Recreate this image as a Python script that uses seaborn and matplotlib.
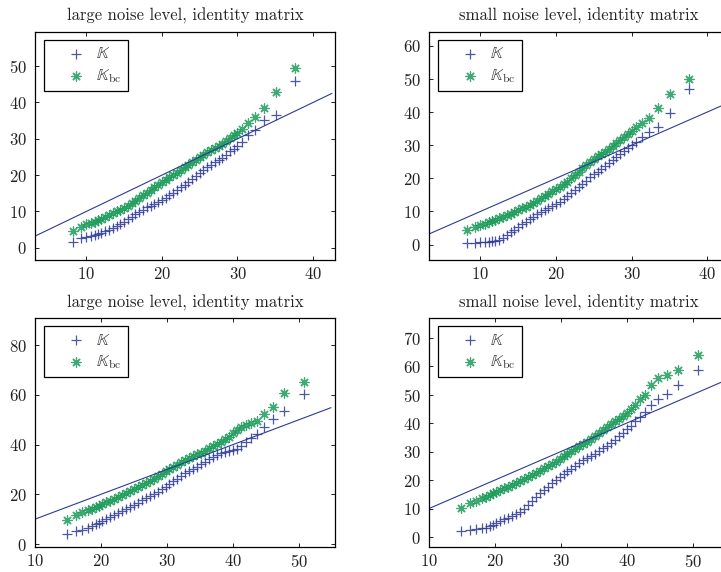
import matplotlib
matplotlib.use("Agg")
import matplotlib.pyplot as plt
import seaborn as sns

X_TOP = [8.2, 9.3, 10.0, 10.6, 11.1, 11.6, 12.0, 12.5, 13.0, 13.5, 14.0, 14.5,
         15.0, 15.5, 16.0, 16.5, 17.0, 17.5, 18.0, 18.5, 19.0, 19.5, 20.0, 20.5,
         21.0, 21.5, 22.0, 22.5, 23.0, 23.5, 24.0, 24.5, 25.0, 25.5, 26.0, 26.5,
         27.0, 27.5, 28.0, 28.5, 29.0, 29.5, 30.0, 30.6, 31.4, 32.3, 33.5, 35.1, 37.6]

K_TL = [1.6, 2.8, 3.0, 3.3, 3.5, 3.8, 4.1, 4.5, 5.0, 5.5, 6.0, 6.5,
        7.1, 7.8, 8.6, 9.3, 9.9, 10.5, 11.1, 11.6, 12.0, 12.5, 13.1, 13.7,
        14.4, 15.2, 15.9, 16.6, 17.4, 18.1, 18.9, 19.7, 20.5, 21.3, 22.1, 22.8,
        23.5, 24.2, 24.8, 25.6, 26.5, 27.2, 27.9, 29.0, 31.0, 32.4, 35.2, 36.5, 46.0]
KBC_TL = [4.5, 5.8, 6.5, 6.9, 7.2, 7.6, 7.9, 8.4, 8.9, 9.5, 10.0, 10.5,
          11.0, 11.6, 12.3, 12.9, 13.6, 14.4, 15.2, 15.9, 16.7, 17.4, 18.0, 18.7,
          19.4, 20.1, 20.7, 21.4, 22.1, 22.8, 23.5, 24.2, 24.9, 25.6, 26.3, 26.9,
          27.5, 28.1, 28.7, 29.4, 30.3, 31.0, 31.7, 32.7, 34.4, 36.0, 38.6, 43.0, 49.4]

K_TR = [0.4, 0.5, 0.7, 0.8, 0.9, 1.0, 1.2, 1.5, 2.1, 2.9, 3.7, 4.5,
        5.3, 6.1, 6.9, 7.7, 8.4, 9.1, 9.8, 10.4, 11.0, 11.7, 12.3, 12.9,
        13.7, 14.6, 15.5, 16.4, 17.4, 18.4, 19.3, 20.3, 21.2, 22.0, 22.8, 23.6,
        24.5, 25.5, 26.4, 27.4, 28.4, 29.2, 30.0, 30.9, 32.4, 34.0, 35.4, 39.6, 47.1]
KBC_TR = [4.3, 5.3, 5.8, 6.3, 6.8, 7.2, 7.5, 7.9, 8.4, 8.8, 9.3, 9.8,
          10.3, 10.9, 11.5, 12.1, 12.7, 13.3, 14.0, 14.7, 15.4, 16.1, 16.8, 17.5,
          18.2, 19.0, 20.0, 21.0, 22.0, 23.0, 24.0, 25.0, 25.8, 26.6, 27.3, 28.1,
          28.9, 29.8, 30.7, 31.7, 32.6, 33.5, 34.4, 35.4, 36.7, 38.1, 41.2, 45.5, 50.0]

X_BOTTOM = [14.9, 16.2, 17.2, 18.0, 18.6, 19.2, 19.7, 20.2, 20.8, 21.4, 22.0, 22.6,
            23.2, 23.8, 24.4, 25.0, 25.6, 26.2, 26.8, 27.4, 28.0, 28.6, 29.2, 29.8,
            30.4, 31.0, 31.6, 32.2, 32.8, 33.4, 34.0, 34.6, 35.2, 35.8, 36.4, 37.0,
            37.6, 38.2, 38.8, 39.4, 40.0, 40.6, 41.3, 42.0, 42.7, 43.6, 44.7, 46.1,
            47.8, 50.8]

K_BL = [4.2, 5.1, 5.8, 6.6, 7.2, 7.9, 8.5, 9.1, 10.0, 11.0, 11.8, 12.6,
        13.3, 14.1, 15.0, 15.9, 16.7, 17.6, 18.4, 19.2, 20.1, 21.1, 22.1, 23.0,
        24.1, 25.2, 26.3, 27.3, 28.4, 29.5, 30.4, 31.2, 32.1, 33.1, 34.1, 35.0,
        35.8, 36.5, 36.9, 37.4, 37.8, 38.3, 39.5, 41.2, 42.5, 44.4, 47.0, 50.5,
        53.6, 60.6]
KBC_BL = [9.8, 11.7, 12.8, 13.7, 14.3, 14.9, 15.5, 16.0, 16.8, 17.4, 18.2, 18.9,
          19.8, 20.7, 21.5, 22.2, 22.9, 23.7, 24.5, 25.4, 26.3, 27.2, 28.2, 29.2,
          30.2, 31.1, 32.0, 32.9, 33.7, 34.6, 35.4, 36.1, 36.8, 37.6, 38.5, 39.4,
          40.3, 41.2, 42.1, 43.2, 44.5, 45.9, 47.0, 48.0, 48.6, 49.5, 52.2, 55.3,
          60.9, 65.4]

K_BR = [2.2, 2.5, 2.7, 3.0, 3.3, 3.8, 4.3, 4.9, 5.5, 6.2, 6.8, 7.4,
        8.1, 8.9, 9.9, 11.2, 12.6, 14.0, 15.3, 16.5, 17.7, 18.8, 19.9, 21.0,
        22.0, 23.0, 24.0, 25.0, 26.0, 26.9, 27.7, 28.5, 29.3, 30.2, 31.1, 32.0,
        33.0, 34.2, 35.4, 36.6, 37.8, 39.0, 40.6, 42.3, 44.0, 46.5, 48.6, 50.3,
        53.2, 58.7]
KBC_BR = [10.1, 11.9, 12.8, 13.6, 14.2, 14.8, 15.3, 15.9, 16.5, 17.1, 17.7, 18.4,
          19.0, 19.7, 20.4, 21.1, 21.8, 22.6, 23.3, 24.1, 24.9, 25.7, 26.5, 27.4,
          28.3, 29.2, 30.1, 31.0, 31.8, 32.6, 33.4, 34.3, 35.3, 36.4, 37.5, 38.6,
          39.6, 40.6, 41.6, 42.6, 43.6, 44.8, 46.5, 48.3, 50.0, 53.2, 55.8, 56.9,
          58.6, 64.0]

# endpoints of the y = x reference line
LINE_TOP = [3.2, 42.5]
LINE_BOTTOM = [10.0, 54.9]

TITLES = ["large noise level, identity matrix", "small noise level, identity matrix",
          "large noise level, identity matrix", "small noise level, identity matrix"]
LABELS = [r"$\mathbb{K}$", r"$\mathbb{K}_{\mathrm{bc}}$"]

BLUE = "#2d3a97"
GREEN = "#1d9b5b"

sns.set_theme(style="ticks")
plt.rcParams.update({
    "font.family": "cmr10",
    "mathtext.fontset": "cm",
    "axes.formatter.use_mathtext": True,
    "axes.unicode_minus": False,
    "font.size": 12,
    "axes.edgecolor": "black",
    "axes.linewidth": 0.9,
    "xtick.direction": "in",
    "ytick.direction": "in",
    "xtick.top": True,
    "ytick.right": True,
    "xtick.major.size": 3,
    "ytick.major.size": 3,
    "xtick.major.width": 0.7,
    "ytick.major.width": 0.7,
    "xtick.labelsize": 12,
    "ytick.labelsize": 12,
    "xtick.color": "#222222",
    "ytick.color": "#222222",
    "xtick.major.pad": 4,
    "ytick.major.pad": 6,
})

fig = plt.figure(figsize=(7.21, 5.72), dpi=100)

panels = [
    dict(x=X_TOP, k=K_TL, kbc=KBC_TL, line=LINE_TOP, xlim=(3.2, 42.9), ylim=(-3.5, 59.4),
         xticks=[10, 20, 30, 40], yticks=[0, 10, 20, 30, 40, 50],
         pos=[0.0485, 0.5446, 0.4161, 0.3995]),
    dict(x=X_TOP, k=K_TR, kbc=KBC_TR, line=LINE_TOP, xlim=(3.2, 42.9), ylim=(-4.8, 64.2),
         xticks=[10, 20, 30, 40], yticks=[0, 10, 20, 30, 40, 50, 60],
         pos=[0.595, 0.5446, 0.4161, 0.3995]),
    dict(x=X_BOTTOM, k=K_BL, kbc=KBC_BL, line=LINE_BOTTOM, xlim=(10, 55.5), ylim=(-1.2, 90.8),
         xticks=[10, 20, 30, 40, 50], yticks=[0, 20, 40, 60, 80],
         pos=[0.0485, 0.0437, 0.4161, 0.3995]),
    dict(x=X_BOTTOM, k=K_BR, kbc=KBC_BR, line=LINE_BOTTOM, xlim=(10, 55.5), ylim=(-3.5, 76.7),
         xticks=[10, 20, 30, 40, 50], yticks=[0, 10, 20, 30, 40, 50, 60, 70],
         pos=[0.595, 0.0437, 0.4161, 0.3995]),
]

for title, p in zip(TITLES, panels):
    ax = fig.add_axes(p["pos"])
    sns.lineplot(x=p["line"], y=p["line"], color=BLUE, linewidth=0.8, errorbar=None,
                 ax=ax, legend=False)
    sns.scatterplot(x=p["x"], y=p["k"], marker="+", s=52, color=BLUE, edgecolor=None,
                    linewidth=0.9, alpha=0.85, ax=ax, legend=False)
    h_k = ax.collections[-1]
    sns.scatterplot(x=p["x"], y=p["kbc"], marker=(8, 2, 0), s=44, color=GREEN, edgecolor=None,
                    linewidth=0.9, alpha=0.85, ax=ax, legend=False)
    h_kbc = ax.collections[-1]
    ax.set_xlim(*p["xlim"])
    ax.set_ylim(*p["ylim"])
    ax.set_xticks(p["xticks"])
    ax.set_yticks(p["yticks"])
    ax.set_title(title, fontsize=12, pad=8, color="#222222")
    for side in ["top", "right", "left", "bottom"]:
        ax.spines[side].set_visible(True)

    leg = ax.legend([h_k, h_kbc], LABELS, loc="upper left",
                    bbox_to_anchor=(8.8 / 300, 1 - 8 / 228.5), borderaxespad=0,
                    frameon=True, fancybox=False, framealpha=1, edgecolor="black",
                    borderpad=0.35, handlelength=3.2, handletextpad=-0.4,
                    labelspacing=0.35, fontsize=12)
    leg.get_frame().set_linewidth(0.9)
    for t in leg.get_texts():
        t.set_color("#333333")

fig.savefig("out.png", dpi=100)
